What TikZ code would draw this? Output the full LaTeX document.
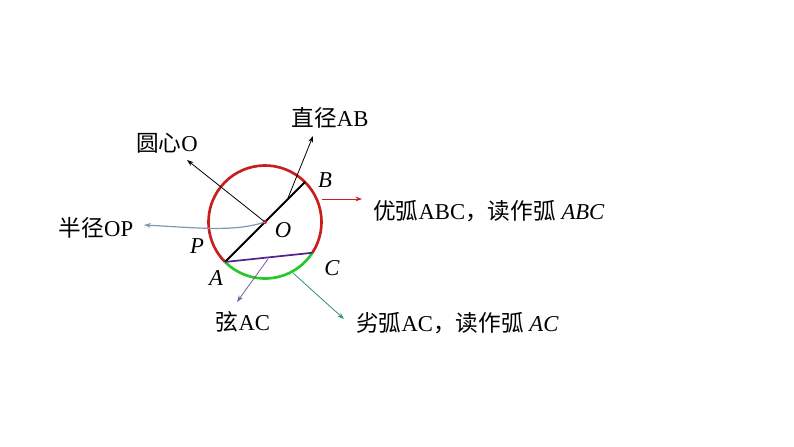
\documentclass[tikz,border=0pt]{standalone}
\usepackage{fontspec}
\setmainfont{Liberation Serif}
\newfontfamily\cjk{Noto Sans CJK SC}
\usepackage{xcolor}
\usetikzlibrary{arrows.meta, positioning, calc}
\definecolor{arcred}{RGB}{200,30,30}
\definecolor{arcgreen}{RGB}{40,200,40}
\definecolor{chordpurple}{RGB}{85,35,140}
\definecolor{radgray}{RGB}{130,150,175}
\definecolor{minorarrow}{RGB}{40,150,110}
\definecolor{chordarrow}{RGB}{120,90,160}
\tikzset{
        lbl/.style={inner sep=0pt, font=\fontsize{17}{20}\selectfont},
        pt/.style={inner sep=0pt, font=\fontsize{17}{20}\selectfont\itshape},
        arrow/.style={-{Stealth[length=5pt,width=3.5pt]}, line width=0.6pt},
    }
\begin{document}
\begin{tikzpicture}[x=0.75pt, y=0.75pt]
        \useasboundingbox (0,0) rectangle (794,-447);
        % circle and points
        \coordinate (O) at (265,-222);
        \coordinate (A) at ($(O)+(225:56.5)$);
        \coordinate (B) at ($(O)+(45:56.5)$);
        \coordinate (C) at ($(O)+(-33:56.5)$);
        \draw[arcred, line width=2pt] (C) arc[start angle=-33, end angle=225, radius=56.5];
        \draw[arcgreen, line width=2pt] (A) arc[start angle=225, end angle=327, radius=56.5];
        \draw[line width=1.5pt] (A) -- (B);
        \draw[chordpurple, line width=1.3pt] (A) -- (C);
        \fill[arcred] (O) circle (2);

        % point labels
        \node[pt] (lO) at (283,-230) {O};
        \node[pt] (lA) at (216,-278) {A};
        \node[pt] (lB) at (325,-180) {B};
        \node[pt] (lC) at (332,-268) {C};
        \node[pt] (lP) at (197,-246) {P};

        % texts
        \node[lbl] (centre) at (167,-143) {{\cjk 圆心}O};
        \node[lbl] (diam) at (330,-118) {{\cjk 直径}AB};
        \node[lbl] (radius) at (96,-228) {{\cjk 半径}OP};
        \node[lbl] (chord) at (243,-322) {{\cjk 弦}AC};
        \node[lbl, anchor=west] (major) at (373,-211) {{\cjk 优弧}ABC{\cjk ，读作弧} \textit{ABC}};
        \node[lbl, anchor=west] (minor) at (356,-323) {{\cjk 劣弧}AC{\cjk ，读作弧} \textit{AC}};

        % arrow ends
        \coordinate (tcentre) at (187,-160);
        \coordinate (sdiam) at (288,-198);
        \coordinate (tdiam) at (313,-136);
        \coordinate (tradius) at (144,-225);
        \coordinate (smajor) at (322,-199);
        \coordinate (tmajor) at (362,-199);
        \coordinate (schord) at (268,-259);
        \coordinate (tchord) at (237,-302);
        \coordinate (sminor) at (293,-273);
        \coordinate (tminor) at (344,-319);

        % arrows
        \draw[arrow] (O) -- (tcentre);
        \draw[arrow] (sdiam) -- (tdiam);
        \draw[arrow, radgray, line width=0.9pt] (O) .. controls (235,-232) and (200,-228) .. (tradius);
        \draw[arrow, arcred] (smajor) -- (tmajor);
        \draw[arrow, chordarrow] (schord) -- (tchord);
        \draw[arrow, minorarrow] (sminor) -- (tminor);
    \end{tikzpicture}
\end{document}
